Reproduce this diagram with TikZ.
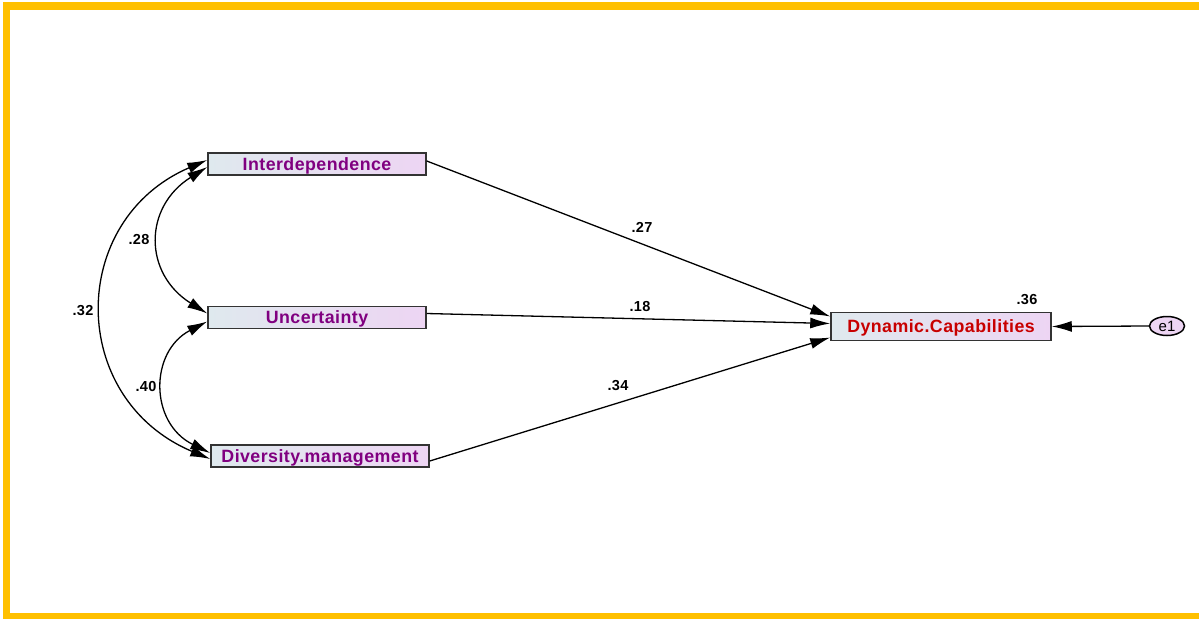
\documentclass[tikz,border=0pt]{standalone}
\usepackage{fontspec}
\setmainfont{Liberation Sans}
\usetikzlibrary{arrows.meta, shapes.geometric}

\definecolor{frameyellow}{HTML}{FFC000}
\definecolor{boxleft}{HTML}{DFE9EE}
\definecolor{boxright}{HTML}{EDD5F3}
\definecolor{obspurple}{HTML}{800080}
\definecolor{endored}{HTML}{C80000}

\begin{document}
\begin{tikzpicture}[x=1pt, y=-1pt,
    var/.style={draw=black!80, line width=1.5pt, shading=axis, left color=boxleft, right color=boxright,
        minimum width=218pt, minimum height=22pt, inner sep=0pt, text height=12.8pt, text depth=0pt,
        font=\fontsize{17.8}{19}\selectfont\bfseries\addfontfeatures{LetterSpace=2.5}, text=obspurple},
    err/.style={ellipse, draw=black, line width=1.5pt, fill=boxright, minimum width=35pt, minimum height=19pt,
        inner sep=0pt, font=\fontsize{15}{16}\selectfont},
    coef/.style={font=\fontsize{14.5}{16}\selectfont\bfseries\addfontfeatures{LetterSpace=2}},
    path/.style={line width=1.3pt, -{Latex[length=20pt, width=11pt]}},
    cov/.style={line width=1.3pt, {Latex[length=20pt, width=11pt]}-{Latex[length=20pt, width=11pt]}}]
    \useasboundingbox (0, 0) rectangle (1199, 619);

    % frame
    \fill[frameyellow] (3, 2) rectangle (1199, 10);
    \fill[frameyellow] (3, 2) rectangle (10, 619);
    \fill[frameyellow] (3, 613) rectangle (1199, 619);

    \node[var] (interdep) at (317, 164) {Interdependence};
    \node[var] (uncert) at (317, 317.5) {Uncertainty};
    \node[var] (divers) at (320, 456) {Diversity.management};
    \node[var, minimum width=220pt, minimum height=28pt, text=endored] (dyncap) at (941, 326.5) {Dynamic.Capabilities};
    \node[err] (e1) at (1167, 326) {e1};

    \draw[path] ([yshift=3pt]interdep.east) -- ([yshift=10pt]dyncap.west);
    \draw[path] ([yshift=4pt]uncert.east) -- ([yshift=3pt]dyncap.west);
    \draw[path] ([yshift=-5pt]divers.east) -- ([yshift=-11pt]dyncap.west);
    \draw[path] (e1.west) -- (dyncap.east);

    \draw[cov] ([yshift=-3pt]interdep.west) .. controls +(-64, 40) and +(-64, -40) .. ([yshift=4pt]uncert.west);
    \draw[cov] ([yshift=4pt]interdep.west) .. controls +(-140, 60) and +(-143, -60) .. ([yshift=-3pt]divers.west);
    \draw[cov] ([yshift=-4pt]uncert.west) .. controls +(-58, 30) and +(-61, -30) .. ([yshift=3pt]divers.west);

    \node[coef] (c1) at (642, 227) {.27};
    \node[coef] (c2) at (640, 307) {.18};
    \node[coef] (c3) at (618, 386) {.34};
    \node[coef] (c4) at (1027, 300) {.36};
    \node[coef] (c5) at (139, 240) {.28};
    \node[coef] (c6) at (83, 311) {.32};
    \node[coef] (c7) at (146, 387) {.40};
\end{tikzpicture}
\end{document}
